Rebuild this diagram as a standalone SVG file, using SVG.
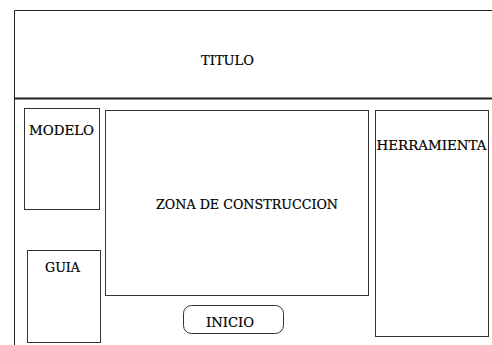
<svg xmlns="http://www.w3.org/2000/svg" width="492" height="345" viewBox="0 0 492 345">
<style>
.box{fill:#fff;stroke:#333;stroke-width:1}
.ln{fill:none;stroke:#222}
.t{font-size:13px;fill:#000;stroke:#000;stroke-width:0.2}
</style>
<rect width="492" height="345" fill="#fff"/>
<g id="frame">
<path class="ln" d="M14.5 345V10.5H492" stroke-width="1"/>
<path class="ln" d="M14 98.5H492" stroke-width="2"/>
</g>
<g font-family="DejaVu Serif, Liberation Serif, serif">
<g id="titulo"><text class="t" x="201" y="65" textLength="53" lengthAdjust="spacingAndGlyphs">TITULO</text></g>
<g id="modelo"><rect class="box" x="24.5" y="108.5" width="75" height="101"/><text class="t" x="29" y="135" textLength="65" lengthAdjust="spacingAndGlyphs">MODELO</text></g>
<g id="guia"><rect class="box" x="27.5" y="250.5" width="73" height="92"/><text class="t" x="45" y="272" textLength="35" lengthAdjust="spacingAndGlyphs">GUIA</text></g>
<g id="zona"><rect class="box" x="105.5" y="110.5" width="263" height="185"/><text class="t" x="156" y="209" textLength="182" lengthAdjust="spacingAndGlyphs">ZONA DE CONSTRUCCION</text></g>
<g id="herramienta"><rect class="box" x="375.5" y="110.5" width="113" height="226"/><text class="t" x="376.5" y="150" textLength="110" lengthAdjust="spacingAndGlyphs">HERRAMIENTA</text></g>
<g id="inicio"><rect class="box" x="183.5" y="305.5" width="100" height="28" rx="8"/><text class="t" x="206" y="327" textLength="48" lengthAdjust="spacingAndGlyphs">INICIO</text></g>
</g>
<g id="connectors"></g>
</svg>
